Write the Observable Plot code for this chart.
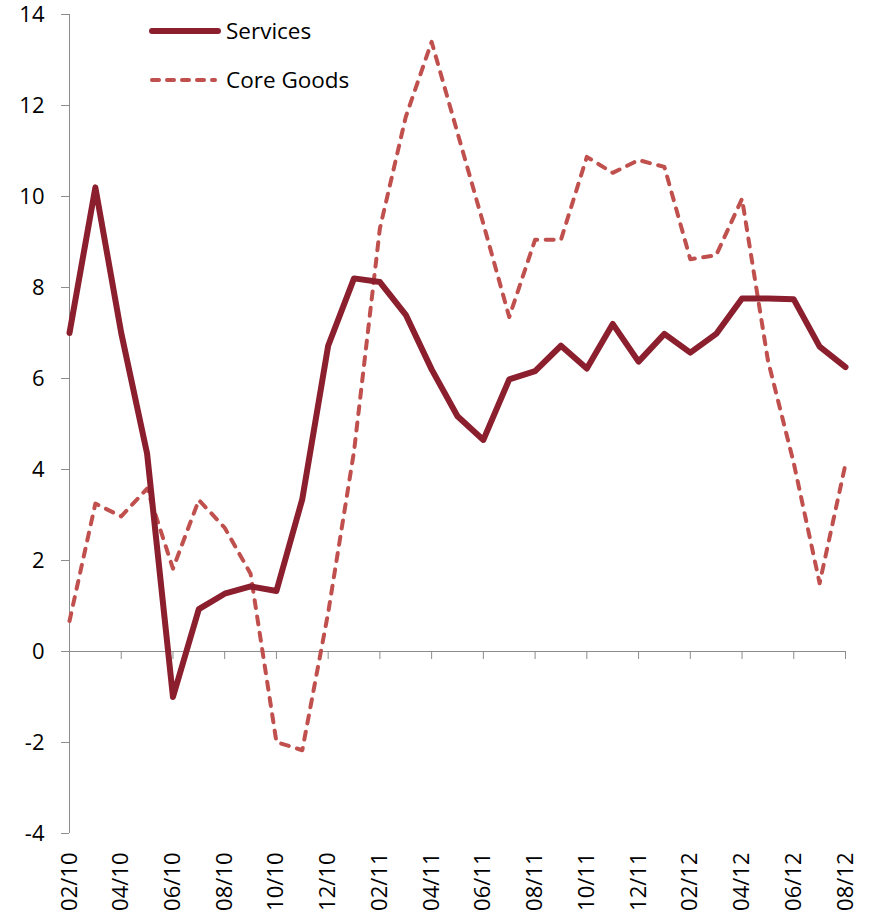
<!DOCTYPE html>
<html>
<head>
<meta charset="utf-8">
<script src="https://cdn.jsdelivr.net/npm/d3@7"></script>
<script src="https://cdn.jsdelivr.net/npm/@observablehq/plot@0.6"></script>
<style>
  html, body { margin: 0; padding: 0; background: #fff; }
  #wrap { position: relative; width: 875px; height: 918px; }
  #wrap > svg { overflow: visible; }
  #legend { position: absolute; left: 0; top: 0; pointer-events: none; }
</style>
</head>
<body>
<div id="wrap"></div>
<script>
const months = ["02/10","03/10","04/10","05/10","06/10","07/10","08/10","09/10","10/10","11/10","12/10",
  "01/11","02/11","03/11","04/11","05/11","06/11","07/11","08/11","09/11","10/11","11/11","12/11",
  "01/12","02/12","03/12","04/12","05/12","06/12","07/12","08/12"];
const services = [7.0, 10.2, 7.0, 4.35, -1.0, 0.93, 1.27, 1.43, 1.33, 3.35, 6.72,
  8.2, 8.12, 7.4, 6.2, 5.17, 4.65, 5.98, 6.16, 6.72, 6.22, 7.2, 6.37,
  6.98, 6.57, 6.98, 7.76, 7.76, 7.74, 6.7, 6.25];
const coreGoods = [0.67, 3.25, 2.97, 3.58, 1.82, 3.33, 2.72, 1.71, -1.99, -2.17, 0.85,
  4.4, 9.3, 11.75, 13.4, 11.4, 9.4, 7.35, 9.05, 9.05, 10.87, 10.52, 10.8,
  10.65, 8.62, 8.71, 9.95, 6.4, 4.14, 1.5, 4.12];
const yTicks = [-4, -2, 0, 2, 4, 6, 8, 10, 12, 14];
const seriesNames = ["Services", "Core Goods"];

const xTicks = months.map((m, i) => i).filter(i => i % 2 === 0);
const svcData = months.map((m, i) => ({i, v: services[i]}));
const cgData = months.map((m, i) => ({i, v: coreGoods[i]}));

const svcColor = "#8B1F2E";
const cgColor = "#C0504D";
const axisColor = "#8c8c8c";

const chart = Plot.plot({
  width: 875,
  height: 918,
  marginLeft: 69,
  marginRight: 30,
  marginTop: 14,
  marginBottom: 85,
  style: {fontFamily: "'Open Sans', sans-serif", fontSize: "22px", color: "#000", background: "#fff", overflow: "visible"},
  x: {type: "linear", domain: [0, months.length - 1]},
  y: {domain: [-4, 14]},
  marks: [
    Plot.axisY({ticks: yTicks, tickSize: 8, tickPadding: 17, stroke: axisColor, fill: "#000", label: null, tickFormat: d => String(d)}),
    Plot.ruleX([0], {stroke: axisColor, strokeWidth: 1}),
    Plot.axisX({anchor: "bottom", ticks: xTicks, tickSize: 0, tickPadding: 19, tickRotate: -90, tickFormat: i => months[i], fill: "#000", label: null}),
    Plot.ruleY([0], {stroke: axisColor, strokeWidth: 1}),
    Plot.ruleX(xTicks, {x: d => d, y1: () => 0, y2: () => 0, insetBottom: -8, stroke: axisColor, strokeWidth: 1}),
    Plot.line(cgData, {x: "i", y: "v", stroke: cgColor, strokeWidth: 4, strokeDasharray: "8,8.5", strokeLinecap: "round", strokeLinejoin: "round"}),
    Plot.line(svcData, {x: "i", y: "v", stroke: svcColor, strokeWidth: 6, strokeLinecap: "round", strokeLinejoin: "round"})
  ]
});

const wrap = document.getElementById("wrap");
wrap.appendChild(chart);

// Legend (HTML overlay)
const ns = "http://www.w3.org/2000/svg";
const leg = document.createElementNS(ns, "svg");
leg.setAttribute("id", "legend");
leg.setAttribute("width", "400");
leg.setAttribute("height", "110");
const items = [
  {name: seriesNames[0], color: svcColor, width: 6, dash: null, y: 31, x2: 218},
  {name: seriesNames[1], color: cgColor, width: 4, dash: "7,8", y: 80, x2: 215}
];
for (const it of items) {
  const l = document.createElementNS(ns, "line");
  l.setAttribute("x1", 152); l.setAttribute("x2", it.x2);
  l.setAttribute("y1", it.y); l.setAttribute("y2", it.y);
  l.setAttribute("stroke", it.color);
  l.setAttribute("stroke-width", it.width);
  l.setAttribute("stroke-linecap", "round");
  if (it.dash) l.setAttribute("stroke-dasharray", it.dash);
  leg.appendChild(l);
  const t = document.createElementNS(ns, "text");
  t.setAttribute("x", 226);
  t.setAttribute("y", it.y);
  t.setAttribute("dy", "0.35em");
  t.setAttribute("font-family", "'Open Sans', sans-serif");
  t.setAttribute("font-size", "22.5px");
  t.setAttribute("fill", "#000");
  t.textContent = it.name;
  leg.appendChild(t);
}
wrap.appendChild(leg);
</script>
</body>
</html>
